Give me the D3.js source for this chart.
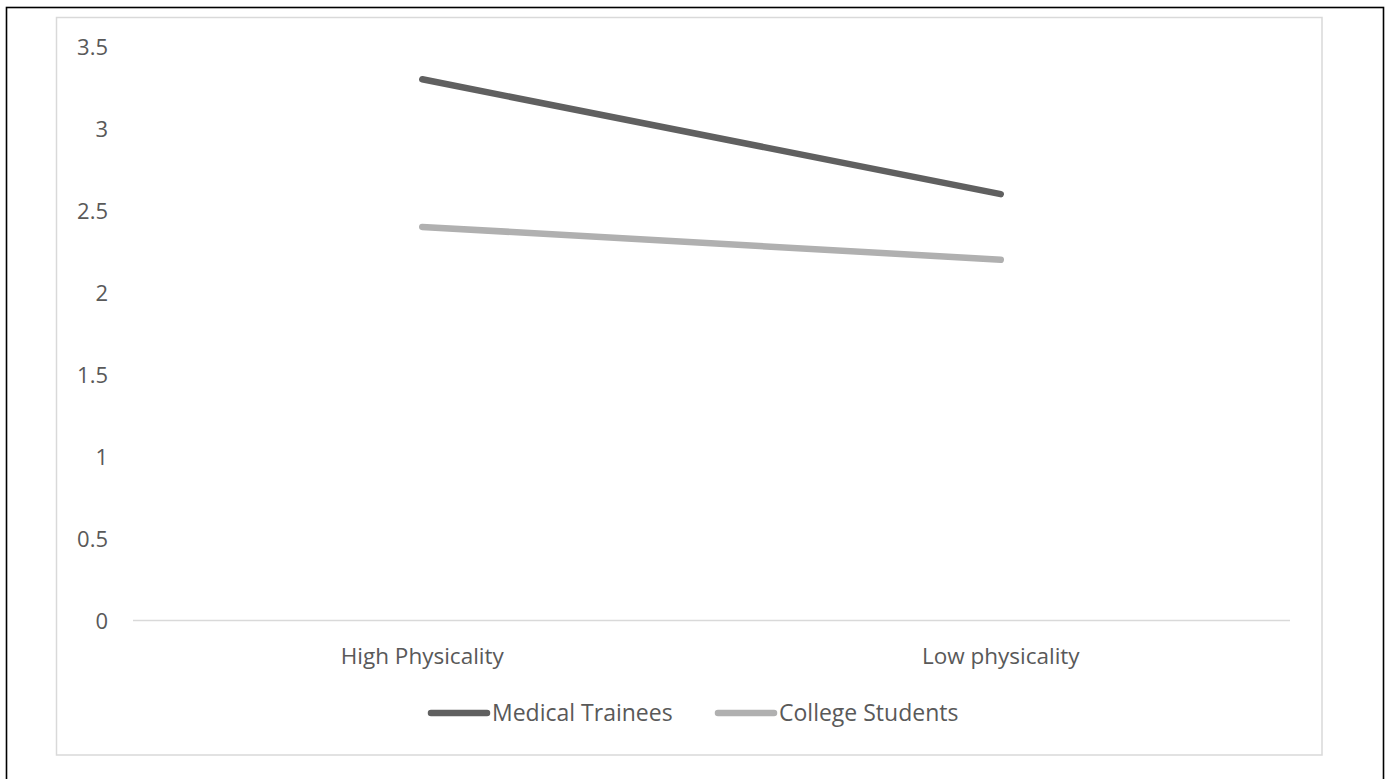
<!DOCTYPE html>
<html>
<head>
<meta charset="utf-8">
<script src="https://cdn.jsdelivr.net/npm/d3@7"></script>
<style>
  html, body { margin: 0; padding: 0; background: #ffffff; }
  svg { display: block; }
  text { font-family: "Open Sans", "Liberation Sans", sans-serif; fill: #595959; }
</style>
</head>
<body>
<svg id="chart" width="1389" height="779"></svg>
<script>
// Categories on the x axis
const categories = ["High Physicality", "Low physicality"];

// Series names and values
const seriesNames = ["Medical Trainees", "College Students"];
const medicalTrainees = [3.3, 2.6];
const collegeStudents = [2.4, 2.2];

// Y axis ticks
const yTicks = [0, 0.5, 1, 1.5, 2, 2.5, 3, 3.5];
const yTickLabels = ["0", "0.5", "1", "1.5", "2", "2.5", "3", "3.5"];

const seriesColors = ["#606060", "#b0b0b0"];

const svg = d3.select("#chart");

// Outer frame
svg.append("rect")
  .attr("x", 6.5).attr("y", 7.5)
  .attr("width", 1377).attr("height", 800)
  .attr("fill", "none").attr("stroke", "#000").attr("stroke-width", 1.6);

// Chart area border
svg.append("rect")
  .attr("x", 56.5).attr("y", 17.5)
  .attr("width", 1265.5).attr("height", 737.5)
  .attr("fill", "#fff").attr("stroke", "#d9d9d9").attr("stroke-width", 1.5);

const plot = { left: 133, right: 1290, top: 46.5, bottom: 620.5 };

const x = d3.scaleBand().domain(categories).range([plot.left, plot.right]).padding(0);
const y = d3.scaleLinear().domain([0, 3.5]).range([plot.bottom, plot.top]);

// Baseline
svg.append("line")
  .attr("x1", plot.left).attr("x2", plot.right)
  .attr("y1", y(0)).attr("y2", y(0))
  .attr("stroke", "#d9d9d9").attr("stroke-width", 1.5);

// Y axis labels
const yAxis = d3.axisLeft(y).tickValues(yTicks)
  .tickFormat((d, i) => yTickLabels[i]).tickSize(0).tickPadding(0);
const yg = svg.append("g").attr("transform", "translate(108,1)").call(yAxis);
yg.select(".domain").remove();
yg.selectAll("text")
  .attr("font-size", 22).attr("fill", "#595959")
  .attr("font-family", "'Open Sans', sans-serif");

// X axis labels
const xAxis = d3.axisBottom(x).tickSize(0).tickPadding(0);
const xg = svg.append("g").attr("transform", `translate(0,${y(0) + 28})`).call(xAxis);
xg.select(".domain").remove();
xg.selectAll("text")
  .attr("font-size", 22.5).attr("fill", "#595959")
  .attr("font-family", "'Open Sans', sans-serif");

// Series lines
const series = [medicalTrainees, collegeStudents];
const line = d3.line()
  .x((d, i) => x(categories[i]) + x.bandwidth() / 2)
  .y(d => y(d));

series.forEach((vals, s) => {
  svg.append("path")
    .datum(vals)
    .attr("d", line)
    .attr("fill", "none")
    .attr("stroke", seriesColors[s])
    .attr("stroke-width", 6.5)
    .attr("stroke-linecap", "round");
});

// Legend
const legendY = 713;
const legendItems = [
  { x: 428, textX: 492 },
  { x: 715, textX: 779 }
];
seriesNames.forEach((name, s) => {
  const it = legendItems[s];
  svg.append("line")
    .attr("x1", it.x + 3).attr("x2", it.x + 59)
    .attr("y1", legendY).attr("y2", legendY)
    .attr("stroke", seriesColors[s]).attr("stroke-width", 6.5)
    .attr("stroke-linecap", "round");
  svg.append("text")
    .attr("x", it.textX).attr("y", legendY)
    .attr("dy", "0.35em")
    .attr("font-size", 23)
    .text(name);
});
</script>
</body>
</html>
